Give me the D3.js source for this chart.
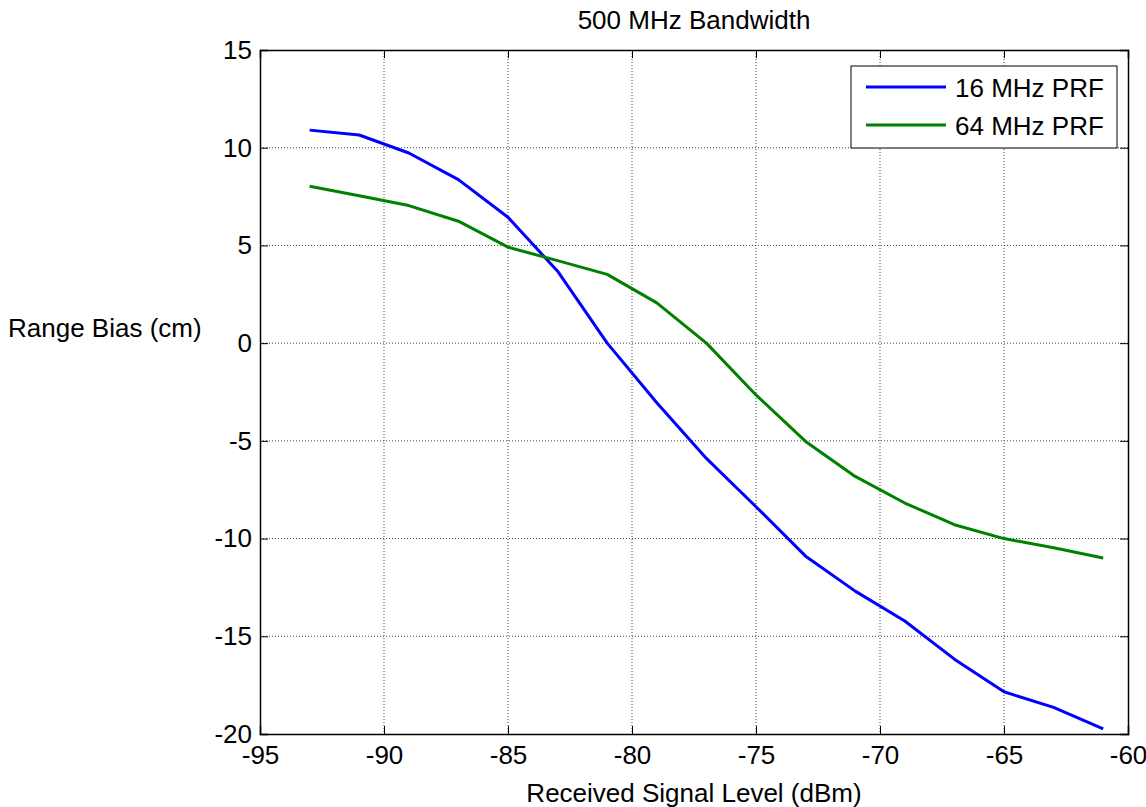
<!DOCTYPE html>
<html>
<head>
<meta charset="utf-8">
<script src="https://cdn.jsdelivr.net/npm/d3@7"></script>
<style>
  body { margin: 0; background: #fff; }
  text { font-family: "Liberation Sans", Arial, sans-serif; fill: #000; }
</style>
</head>
<body>
<div id="chart"></div>
<script>
var svgWidth = 1146;
var svgHeight = 807;

var margin = { top: 50, right: 18, bottom: 73, left: 260 };
var chartWidth = svgWidth - margin.left - margin.right;
var chartHeight = svgHeight - margin.top - margin.bottom;

// data
var signalLevel = [-93, -91, -89, -87, -85, -83, -81, -79, -77, -75, -73, -71, -69, -67, -65, -63, -61];
var bias16 = [10.9, 10.65, 9.73, 8.37, 6.44, 3.68, 0, -3.05, -5.9, -8.37, -10.9, -12.69, -14.22, -16.17, -17.84, -18.64, -19.74];
var bias64 = [8.03, 7.54, 7.04, 6.24, 4.91, 4.22, 3.52, 2.06, 0, -2.65, -5.03, -6.82, -8.18, -9.29, -10.0, -10.47, -10.99];
var seriesNames = ["16 MHz PRF", "64 MHz PRF"];
var seriesColors = ["#0000ff", "#008000"];
var xTicks = [-95, -90, -85, -80, -75, -70, -65, -60];
var yTicks = [15, 10, 5, 0, -5, -10, -15, -20];

var fontSize = "26px";

var svg = d3.select("#chart")
    .append("svg")
    .attr("width", svgWidth)
    .attr("height", svgHeight);

var chartGroup = svg.append("g")
    .attr("transform", `translate(${margin.left}, ${margin.top})`);

var xScale = d3.scaleLinear().domain([-95, -60]).range([0, chartWidth]);
var yScale = d3.scaleLinear().domain([-20, 15]).range([chartHeight, 0]);

// grid
chartGroup.append("g")
    .selectAll("line")
    .data(xTicks.slice(1, -1))
    .enter()
    .append("line")
    .attr("x1", d => xScale(d)).attr("x2", d => xScale(d))
    .attr("y1", 0).attr("y2", chartHeight)
    .attr("stroke", "#444")
    .attr("stroke-width", 1)
    .attr("stroke-dasharray", "1,2");

chartGroup.append("g")
    .selectAll("line")
    .data(yTicks.slice(1, -1))
    .enter()
    .append("line")
    .attr("x1", 0).attr("x2", chartWidth)
    .attr("y1", d => yScale(d)).attr("y2", d => yScale(d))
    .attr("stroke", "#444")
    .attr("stroke-width", 1)
    .attr("stroke-dasharray", "1,2");

// axes (ticks inward, plain hyphen minus)
var fmt = d => String(d);
var bottomAxis = d3.axisBottom(xScale).tickValues(xTicks).tickSize(-8).tickPadding(12).tickFormat(fmt);
var leftAxis = d3.axisLeft(yScale).tickValues(yTicks).tickSize(-8).tickPadding(8).tickFormat(fmt);
var topAxis = d3.axisTop(xScale).tickValues(xTicks).tickSize(-8).tickFormat("");
var rightAxis = d3.axisRight(yScale).tickValues(yTicks).tickSize(-8).tickFormat("");

function styleAxis(g) {
    g.select(".domain").attr("stroke", "#000").attr("stroke-width", 1.5);
    g.selectAll(".tick line").attr("stroke", "#000");
    g.selectAll(".tick text").style("font-size", fontSize).style("font-family", "Liberation Sans, Arial, sans-serif");
}

chartGroup.append("g")
    .attr("transform", `translate(0, ${chartHeight})`)
    .call(bottomAxis)
    .call(styleAxis);

chartGroup.append("g")
    .call(leftAxis)
    .call(styleAxis);

chartGroup.append("g")
    .call(topAxis)
    .call(styleAxis);

chartGroup.append("g")
    .attr("transform", `translate(${chartWidth}, 0)`)
    .call(rightAxis)
    .call(styleAxis);

// lines
var allSeries = [bias16, bias64];
var line = d3.line()
    .x((d, i) => xScale(signalLevel[i]))
    .y(d => yScale(d));

chartGroup.selectAll("path.series")
    .data(allSeries)
    .enter()
    .append("path")
    .classed("series", true)
    .attr("d", d => line(d))
    .attr("fill", "none")
    .attr("stroke", (d, i) => seriesColors[i])
    .attr("stroke-width", 3)
    .attr("stroke-linejoin", "round");

// legend
var legend = svg.append("g").attr("transform", "translate(851, 66)");
legend.append("rect")
    .attr("width", 266)
    .attr("height", 82)
    .attr("fill", "#fff")
    .attr("stroke", "#000")
    .attr("stroke-width", 1);

seriesNames.forEach(function(name, i) {
    var y = 21 + i * 38;
    legend.append("line")
        .attr("x1", 15).attr("x2", 95)
        .attr("y1", y).attr("y2", y)
        .attr("stroke", seriesColors[i])
        .attr("stroke-width", 3);
    legend.append("text")
        .attr("x", 104)
        .attr("y", y + 10)
        .style("font-size", fontSize)
        .text(name);
});

// titles
svg.append("text")
    .attr("x", margin.left + chartWidth / 2)
    .attr("y", 29)
    .attr("text-anchor", "middle")
    .style("font-size", fontSize)
    .text("500 MHz Bandwidth");

svg.append("text")
    .attr("x", margin.left + chartWidth / 2)
    .attr("y", 802)
    .attr("text-anchor", "middle")
    .style("font-size", fontSize)
    .text("Received Signal Level (dBm)");

svg.append("text")
    .attr("x", 8)
    .attr("y", 337)
    .style("font-size", fontSize)
    .text("Range Bias (cm)");
</script>
</body>
</html>
